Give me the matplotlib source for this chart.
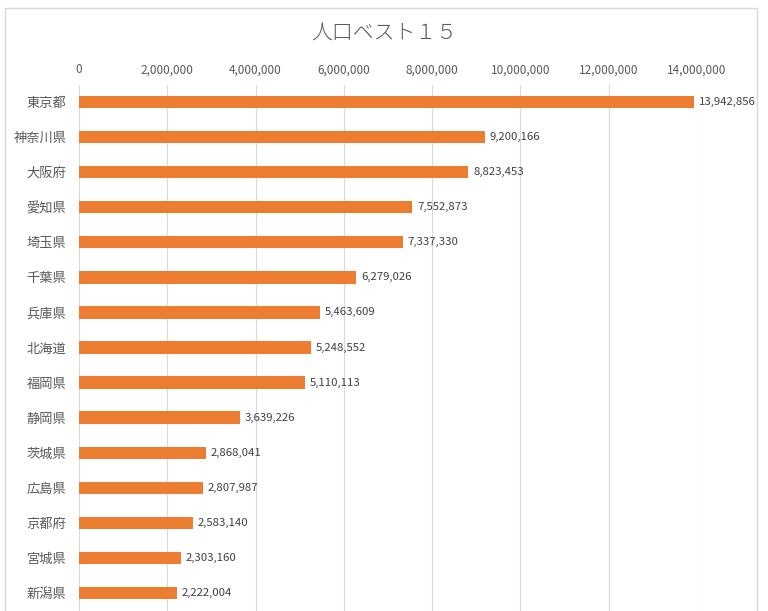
import matplotlib
matplotlib.use("Agg")
import matplotlib.pyplot as plt
from matplotlib.patches import Rectangle
from matplotlib.ticker import FuncFormatter, MultipleLocator

plt.rcParams['font.family'] = ['Noto Sans CJK JP', 'DejaVu Sans']

prefectures = ["東京都", "神奈川県", "大阪府", "愛知県", "埼玉県", "千葉県", "兵庫県", "北海道",
               "福岡県", "静岡県", "茨城県", "広島県", "京都府", "宮城県", "新潟県"]
population = [13942856, 9200166, 8823453, 7552873, 7337330, 6279026, 5463609, 5248552,
              5110113, 3639226, 2868041, 2807987, 2583140, 2303160, 2222004]
title = "人口ベスト１５"

W, H = 768, 611
fig = plt.figure(figsize=(W / 100, H / 100), dpi=100)
fig.patch.set_facecolor("white")

# outer chart border
fig.add_artist(Rectangle((5 / W, -0.01), (757 - 5) / W, (H - 8) / H + 0.01,
                         transform=fig.transFigure, fill=False, edgecolor="#d9d9d9", lw=1))

left, right = 79 / W, 697 / W
top, bottom = 1 - 84.5 / H, 1 - 610.5 / H
ax = fig.add_axes([left, bottom, right - left, top - bottom])

y = list(range(len(prefectures)))
ax.barh(y, population, height=0.35, color="#ED7D31", zorder=3)
ax.set_ylim(len(prefectures) - 0.5, -0.5)
ax.set_xlim(0, 14000000)
ax.xaxis.set_major_locator(MultipleLocator(2000000))
ax.xaxis.set_major_formatter(FuncFormatter(lambda v, p: f"{int(v):,}"))
ax.xaxis.tick_top()
ax.set_yticks(y)
ax.set_yticklabels(prefectures)
ax.tick_params(axis="x", length=0, pad=6, labelsize=8.5, labelcolor="#595959")
ax.tick_params(axis="y", length=0, pad=9, labelsize=9.5, labelcolor="#595959")
ax.grid(axis="x", color="#d9d9d9", lw=0.8, zorder=0)
for s in ax.spines.values():
    s.set_visible(False)

for yi, v in zip(y, population):
    ax.annotate(f"{v:,}", (v, yi), xytext=(3.5, 0), textcoords="offset points",
                va="center", ha="left", fontsize=8.2, color="#404040")

fig.text(0.5, 1 - 34 / H, title, ha="center", va="center", fontsize=15,
         color="#595959", fontweight="light")

fig.savefig("out.png", dpi=100)
